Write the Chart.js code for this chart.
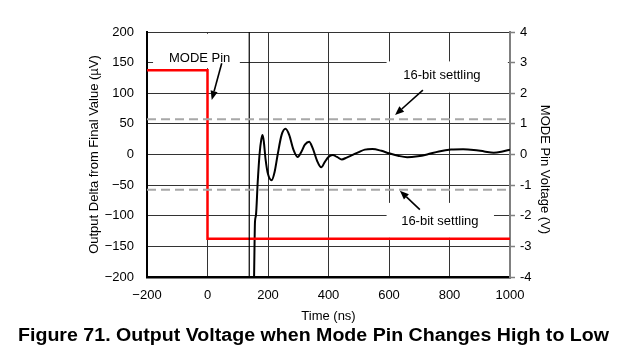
<!DOCTYPE html>
<html><head><meta charset="utf-8">
<script src="https://cdn.jsdelivr.net/npm/chart.js@4.4.1/dist/chart.umd.min.js"></script>
<style>html,body{margin:0;padding:0;background:#fff;}</style>
</head><body>
<canvas id="c" width="620" height="358"></canvas>
<script>
// ---- data ----
const timeNs = [150,154,157,160,166,172,178,182,186,192,200,212,222,232,245,258,270,284,298,310,322,336,348,362,376,388,400,414,428,444,460,478,500,520,545,575,600,630,660,695,726,765,805,845,880,915,946,975,1000];
const outputUv = [-320,-200,-110,-100,-45,0,25,32,22,-8,-32,-42,-28,0,32,42,32,8,-4,4,16,21,10,-10,-21,-12,-4,-1,-4,-8,-5,-1,4,8,9,6,2,-2,-4.5,-3,0,5,8,8.5,7.5,5,3,5,8];
const modeTimeNs = [-200,0,0,1000];
const modeVolts = [2.75,2.75,-2.75,-2.75];
const settleTimeNs = [-200,1000];
const settleUpperUv = [57.5,57.5];
const settleLowerUv = [-57.5,-57.5];
const markerTimeNs = [138,138];
const markerUv = [-200,200];
const xTickLabels = ['\u2212200','0','200','400','600','800','1000'];
const yLeftTickLabels = ['\u2212200','\u2212150','\u2212100','\u221250','0','50','100','150','200'];
const yRightTickLabels = ['-4','-3','-2','-1','0','1','2','3','4'];
const captionText = 'Figure 71. Output Voltage when Mode Pin Changes High to Low';
const xTitle = 'Time (ns)';
const yLeftTitle = 'Output Delta from Final Value (\u00B5V)';
const yRightTitle = 'MODE Pin Voltage (V)';
const modeLabel = 'MODE Pin';
const settleLabel = '16-bit settling';

// ---- annotation placement (data units) ----
const labelBoxes = [
  {x0:-180,x1:107,y0:141,y1:197,text:modeLabel,tx:-26,ty:157},
  {x0:592,x1:993,y0:101,y1:152,text:settleLabel,tx:775,ty:128.6},
  {x0:592,x1:947,y0:-136,y1:-79,text:settleLabel,tx:768,ty:-109.7}
];
const arrows = [
  {x0:47,y0:149,x1:14,y1:89},
  {x0:712,y0:105,x1:620,y1:64.5},
  {x0:702,y0:-90,x1:636,y1:-59}
];

const FONT = '"Liberation Sans", Arial, sans-serif';
const pts = (xs, ys) => xs.map((v,i)=>({x:v,y:ys[i]}));

function drawArrow(ctx, x0,y0,x1,y1){
  const ang = Math.atan2(y1-y0, x1-x0);
  const hl = 9, hw = 3.6;
  const bx = x1 - hl*Math.cos(ang), by = y1 - hl*Math.sin(ang);
  ctx.beginPath(); ctx.moveTo(x0,y0); ctx.lineTo(bx,by);
  ctx.strokeStyle='#000'; ctx.lineWidth=1.6; ctx.stroke();
  ctx.beginPath(); ctx.moveTo(x1,y1);
  ctx.lineTo(bx - hw*Math.sin(ang), by + hw*Math.cos(ang));
  ctx.lineTo(bx + hw*Math.sin(ang), by - hw*Math.cos(ang));
  ctx.closePath(); ctx.fillStyle='#000'; ctx.fill();
}

const annot = {
  id:'annot',
  beforeDatasetsDraw(chart){
    const {ctx, scales:{x,y}} = chart;
    ctx.save(); ctx.fillStyle='#fff';
    labelBoxes.forEach(b=>{
      const l=x.getPixelForValue(b.x0), r=x.getPixelForValue(b.x1);
      const t=y.getPixelForValue(b.y1), bt=y.getPixelForValue(b.y0);
      ctx.fillRect(l,t,r-l,bt-t);
    });
    ctx.restore();
  },
  afterDatasetsDraw(chart){
    const {ctx, scales:{x,y}} = chart;
    ctx.save();
    ctx.font = '13px '+FONT; ctx.fillStyle='#000';
    ctx.textAlign='center'; ctx.textBaseline='middle';
    labelBoxes.forEach(b=>ctx.fillText(b.text, x.getPixelForValue(b.tx), y.getPixelForValue(b.ty)));
    arrows.forEach(a=>drawArrow(ctx, x.getPixelForValue(a.x0), y.getPixelForValue(a.y0), x.getPixelForValue(a.x1), y.getPixelForValue(a.y1)));
    ctx.restore();
  },
  afterDraw(chart){
    const {ctx, chartArea} = chart;
    ctx.save();
    ctx.fillStyle='#000';
    ctx.font = 'bold 18px '+FONT;
    ctx.textAlign='center'; ctx.textBaseline='middle';
    const w = ctx.measureText(captionText).width;
    ctx.translate(313.5, 336.5);
    ctx.scale(591 / w, 1);
    ctx.fillText(captionText, 0, 0);
    ctx.restore();
    ctx.save();
    ctx.fillStyle='#000';
    ctx.font = '13px '+FONT;
    ctx.textAlign='center'; ctx.textBaseline='middle';
    ctx.translate(545, (chartArea.top+chartArea.bottom)/2 + 15);
    ctx.rotate(Math.PI/2);
    ctx.fillText(yRightTitle, 0, 0);
    ctx.restore();
  }
};

new Chart(document.getElementById('c'), {
  type:'line',
  data:{datasets:[
    {data:pts(settleTimeNs,settleUpperUv), yAxisID:'y', borderColor:'#a8a8a8', borderWidth:2, borderDash:[9,5], pointRadius:0},
    {data:pts(settleTimeNs,settleLowerUv), yAxisID:'y', borderColor:'#a8a8a8', borderWidth:2, borderDash:[9,5], pointRadius:0},
    {data:pts(markerTimeNs,markerUv), yAxisID:'y', borderColor:'#000', borderWidth:1.2, pointRadius:0},
    {data:pts(modeTimeNs,modeVolts), yAxisID:'y2', borderColor:'#ff0000', borderWidth:2.5, pointRadius:0},
    {data:pts(timeNs,outputUv), yAxisID:'y', borderColor:'#000', borderWidth:2, pointRadius:0, cubicInterpolationMode:'monotone'}
  ]},
  options:{
    responsive:false, animation:false, devicePixelRatio:1,
    layout:{padding:{top:32,left:0,right:0,bottom:0}},
    plugins:{legend:{display:false}, tooltip:{enabled:false}},
    scales:{
      x:{type:'linear', min:-200, max:1000,
        ticks:{stepSize:200, padding:11, color:'#000', font:{family:FONT,size:13}, maxRotation:0,
          callback:(v,i)=>xTickLabels[i]},
        grid:{color:'#333', lineWidth:1, drawTicks:false},
        border:{color:'#000', width:2.5},
        title:{display:true, text:xTitle, color:'#000', font:{family:FONT,size:13}, padding:{top:0,bottom:34}},
        afterFit:(s)=>{s.height=81;}
      },
      y:{type:'linear', position:'left', min:-200, max:200,
        ticks:{stepSize:50, padding:13, color:'#000', font:{family:FONT,size:13},
          callback:(v,i)=>yLeftTickLabels[i]},
        grid:{color:'#333', lineWidth:1, drawTicks:false},
        border:{color:'#000', width:2},
        title:{display:true, text:yLeftTitle, color:'#000', font:{family:FONT,size:13}, padding:{top:87,bottom:0}},
        afterFit:(s)=>{s.width=147;}
      },
      y2:{type:'linear', position:'right', min:-4, max:4,
        ticks:{stepSize:1, padding:5, color:'#000', font:{family:FONT,size:13},
          callback:(v,i)=>yRightTickLabels[i]},
        grid:{drawOnChartArea:false, drawTicks:true, tickLength:5, tickColor:'#808080', tickWidth:1.5},
        border:{color:'#808080', width:2},
        afterFit:(s)=>{s.width=110;}
      }
    }
  },
  plugins:[annot]
});
</script>
</body></html>
